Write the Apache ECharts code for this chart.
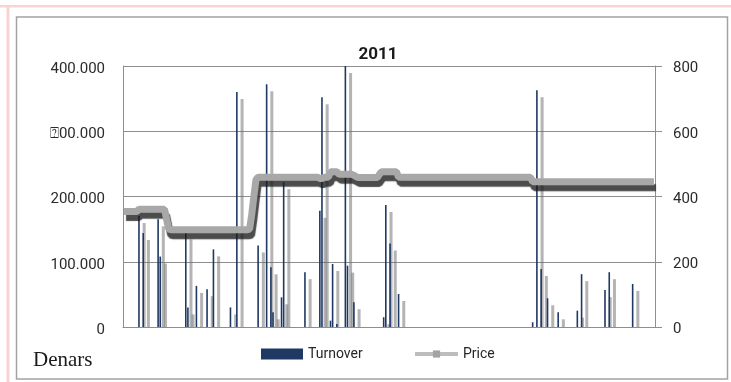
<!DOCTYPE html>
<html>
<head>
<meta charset="utf-8">
<script src="https://cdn.jsdelivr.net/npm/echarts@6/dist/echarts.min.js"></script>
<style>
  html, body { margin: 0; padding: 0; background: #ffffff; }
  #chart { width: 731px; height: 382px; }
</style>
</head>
<body>
<div id="chart"></div>
<script>
// Daily turnover (denars) and closing price, trading year 2011
const chartTitle = '2011';
const unitLabel = 'Denars';

// trading days of the year (category axis)
const tradingDays = Array.from({ length: 250 }, (_, i) => i + 1);

// days with trading (index into tradingDays) and their turnover in denars
const turnoverDays = [7, 9, 16, 17, 29, 30, 34, 39, 42, 50,
                      53, 63, 67, 69, 70, 74, 75, 85, 92, 93,
                      97, 98, 100, 104, 105, 108, 122, 123, 125, 129,
                      192, 194, 196, 199, 204, 213, 215, 226, 228, 239];
const turnoverValues = [170000, 144000, 165000, 108000, 145000, 30000, 63000, 58000, 119000, 30000,
                        360000, 125000, 372000, 91500, 22500, 45500, 222000, 84000, 178000, 352000,
                        9700, 96500, 4600, 400000, 94000, 38000, 15000, 187000, 128000, 50600,
                        7200, 363000, 89000, 44000, 22500, 25000, 81000, 56700, 84000, 66000];

// closing price per trading day
const priceValues = [
  354, 354, 354, 354, 354, 354, 354, 361, 361, 361,
  361, 361, 361, 361, 361, 361, 361, 361, 361, 361,
  330, 300, 298, 298, 298, 298, 298, 298, 298, 298,
  298, 298, 298, 298, 298, 298, 298, 298, 298, 298,
  298, 298, 298, 298, 298, 298, 298, 298, 298, 298,
  298, 298, 298, 298, 298, 298, 298, 298, 298, 300,
  345, 400, 452, 459, 459, 459, 459, 459, 459, 459,
  459, 459, 459, 459, 459, 459, 459, 459, 459, 459,
  459, 459, 459, 459, 459, 459, 459, 459, 459, 459,
  459, 459, 455, 455, 459, 459, 459, 476, 476, 476,
  476, 468, 468, 468, 468, 468, 468, 468, 465, 461,
  458, 458, 458, 458, 458, 458, 458, 458, 458, 458,
  468, 476, 476, 476, 476, 476, 476, 476, 476, 459,
  459, 459, 459, 459, 459, 459, 459, 459, 459, 459,
  459, 459, 459, 459, 459, 459, 459, 459, 459, 459,
  459, 459, 459, 459, 459, 459, 459, 459, 459, 459,
  459, 459, 459, 459, 459, 459, 459, 459, 459, 459,
  459, 459, 459, 459, 459, 459, 459, 459, 459, 459,
  459, 459, 459, 459, 459, 459, 459, 459, 459, 459,
  459, 459, 445, 445, 445, 445, 445, 445, 445, 445,
  445, 445, 445, 445, 445, 445, 445, 445, 445, 445,
  445, 445, 445, 445, 445, 445, 445, 445, 445, 445,
  445, 445, 445, 445, 445, 445, 445, 445, 445, 445,
  445, 445, 445, 445, 445, 445, 445, 445, 445, 445,
  445, 445, 445, 445, 445, 445, 445, 445, 445, 445
];

// axis tick labels
const leftTickLabels = ['0', '100.000', '200.000', '\u2370' + '00.000', '400.000'];
const rightTickLabels = ['0', '200', '400', '600', '800'];

const sansFont = 'Roboto, "Liberation Sans", sans-serif';
const serifFont = '"Liberation Serif", serif';
const navy = '#1f3864';
const gridGrey = '#8e8e8e';

const turnoverData = turnoverDays.map((d, k) => [d, turnoverValues[k]]);

// thin column with an offset drop shadow that stops at the baseline
function renderTurnover(params, api) {
  const top = api.coord([api.value(0), api.value(1)]);
  const base = api.coord([api.value(0), 0]);
  const barW = 1.6;
  const shadowW = 3;
  const sx = top[0] - barW / 2 + 4.5;
  const sy = top[1] + 7;
  const children = [];
  if (base[1] - sy > 0) {
    children.push({
      type: 'rect',
      shape: { x: sx, y: sy, width: shadowW, height: base[1] - sy },
      style: { fill: 'rgba(105,105,105,0.5)' }
    });
  }
  children.push({
    type: 'rect',
    shape: { x: top[0] - barW / 2, y: top[1], width: barW, height: base[1] - top[1] },
    style: { fill: navy }
  });
  return { type: 'group', children };
}

const chart = echarts.init(document.getElementById('chart'), null, { renderer: 'canvas' });

chart.setOption({
  animation: false,
  backgroundColor: '#ffffff',
  title: {
    text: chartTitle,
    left: 373,
    textAlign: 'center',
    top: 41,
    textStyle: { fontFamily: sansFont, fontSize: 17, fontWeight: 'bold', color: '#1a1a1a' }
  },
  legend: [
    {
      data: [{ name: 'Turnover', icon: 'rect' }],
      left: 261,
      top: 347,
      padding: 0,
      itemWidth: 42,
      itemHeight: 11,
      itemGap: 0,
      selectedMode: false,
      textStyle: { fontFamily: sansFont, fontSize: 14, color: '#262626', padding: [4, 0, 0, 0] }
    },
    {
      data: ['Price'],
      left: 413,
      top: 347,
      padding: 0,
      itemWidth: 43,
      itemHeight: 9,
      itemGap: 0,
      selectedMode: false,
      lineStyle: { width: 4, color: '#bdbdbd', shadowColor: 'rgba(0,0,0,0)', shadowBlur: 0, shadowOffsetX: 0, shadowOffsetY: 0 },
      itemStyle: { color: '#a3a3a3', shadowColor: 'rgba(0,0,0,0)', shadowBlur: 0 },
      textStyle: { fontFamily: sansFont, fontSize: 14, color: '#262626', padding: [4, 0, 0, 0] }
    }
  ],
  grid: { left: 123, right: 76, top: 66, bottom: 55 },
  xAxis: {
    type: 'category',
    data: tradingDays,
    boundaryGap: true,
    axisLine: { show: true, lineStyle: { color: gridGrey, width: 1 } },
    axisTick: { show: false },
    axisLabel: { show: false },
    splitLine: { show: false }
  },
  yAxis: [
    {
      type: 'value',
      position: 'left',
      min: 0,
      max: 400000,
      interval: 100000,
      axisLine: { show: true, lineStyle: { color: gridGrey, width: 1 } },
      axisTick: { show: false },
      splitLine: { show: true, lineStyle: { color: gridGrey, width: 1 } },
      axisLabel: {
        margin: 18,
        fontFamily: sansFont,
        fontSize: 15,
        color: '#2b2b2b',
        verticalAlign: 'top',
        lineHeight: 6,
        formatter: v => leftTickLabels[Math.round(v / 100000)]
      }
    },
    {
      type: 'value',
      position: 'right',
      min: 0,
      max: 800,
      interval: 200,
      axisLine: { show: true, lineStyle: { color: gridGrey, width: 1 } },
      axisTick: { show: true, inside: false, length: 7, lineStyle: { color: gridGrey } },
      splitLine: { show: false },
      axisLabel: {
        margin: 18,
        fontFamily: sansFont,
        fontSize: 15,
        color: '#2b2b2b',
        verticalAlign: 'top',
        lineHeight: 5,
        formatter: v => rightTickLabels[Math.round(v / 200)]
      }
    }
  ],
  series: [
    {
      name: 'Turnover',
      type: 'custom',
      yAxisIndex: 0,
      data: turnoverData,
      dimensions: ['day', 'turnover'],
      encode: { x: 0, y: 1 },
      itemStyle: { color: navy },
      renderItem: renderTurnover,
      silent: true,
      z: 2
    },
    {
      name: 'Price',
      type: 'line',
      yAxisIndex: 1,
      data: priceValues,
      symbol: 'rect',
      symbolSize: 6,
      showSymbol: false,
      silent: true,
      itemStyle: { color: '#a3a3a3' },
      lineStyle: {
        width: 7,
        color: '#a8a8a8',
        shadowColor: 'rgba(25,25,25,0.78)',
        shadowBlur: 1,
        shadowOffsetX: 2,
        shadowOffsetY: 6
      },
      z: 3
    }
  ],
  graphic: [
    {
      type: 'rect', silent: true, z: -10,
      shape: { x: 0, y: 5, width: 731, height: 2.5 },
      style: { fill: '#f9d3d3' }
    },
    {
      type: 'rect', silent: true, z: -10,
      shape: { x: 6.5, y: 5, width: 3, height: 377 },
      style: { fill: '#f9d3d3' }
    },
    {
      type: 'rect', silent: true, z: -9,
      shape: { x: 16.5, y: 17, width: 711, height: 362 },
      style: { fill: 'none', stroke: '#a3a3a3', lineWidth: 1.5 }
    },
    {
      type: 'text', silent: true, z: 10,
      style: {
        text: unitLabel,
        x: 33,
        y: 360,
        verticalAlign: 'middle',
        font: '21px ' + serifFont,
        fill: '#1a1a1a'
      }
    }
  ]
});
</script>
</body>
</html>
